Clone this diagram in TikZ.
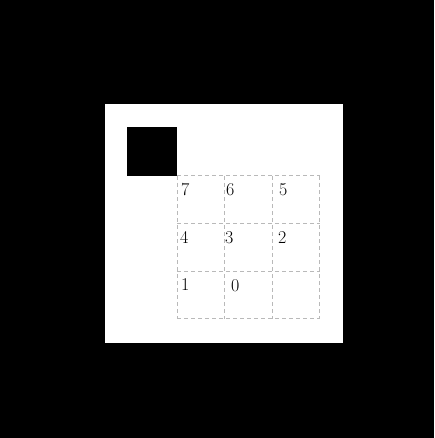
\documentclass[tikz,border=0pt]{standalone}
\usetikzlibrary{positioning}
\tikzset{
  gridline/.style={draw=gray!55,dash pattern=on 4pt off 3pt,line width=1pt},
  digit/.style={inner sep=0pt,anchor=north west,font=\fontsize{18}{21}\selectfont},
}
\begin{document}
\begin{tikzpicture}[x=1pt,y=-1pt]
\useasboundingbox (0,0) rectangle (434,438);
% black frame and white page
\fill[black] (0,0) rectangle (434,438);
\fill[white] (105,104) rectangle (343,343);
% marker square
\fill[black] (127,127) rectangle (177,176);
% 3x3 dashed grid
\foreach \k in {0,1,2,3}{
  \draw[gridline] ({177+47.5*\k},176) -- ({177+47.5*\k},318.5);
  \draw[gridline] (177,{176+47.5*\k}) -- (319.5,{176+47.5*\k});
}
% cell numbers
\node[digit] (n7) at (181,183) {7};
\node[digit] (n6) at (226,183) {6};
\node[digit] (n5) at (279,183) {5};
\node[digit] (n4) at (180,231) {4};
\node[digit] (n3) at (225,231) {3};
\node[digit] (n2) at (278,231) {2};
\node[digit] (n1) at (181,278) {1};
\node[digit] (n0) at (231,279) {0};
\end{tikzpicture}
\end{document}
